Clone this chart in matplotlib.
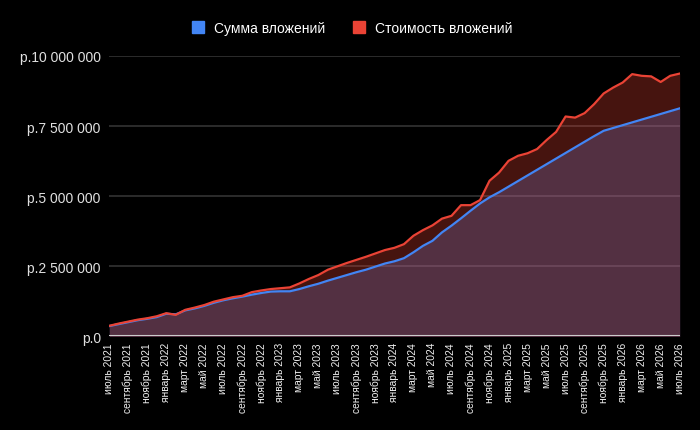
import matplotlib
matplotlib.use('Agg')
import matplotlib.pyplot as plt
from matplotlib.patches import Patch
from matplotlib.ticker import FuncFormatter, FixedLocator
import numpy as np

# Месяцы: июль 2021 .. июль 2026
month_names = ['январь', 'февраль', 'март', 'апрель', 'май', 'июнь',
               'июль', 'август', 'сентябрь', 'октябрь', 'ноябрь', 'декабрь']
months = [f'{month_names[(6 + i) % 12]} {2021 + (6 + i) // 12}' for i in range(61)]

# Сумма вложений, млн руб.
invested = [0.37, 0.44, 0.51, 0.58, 0.63, 0.69, 0.81, 0.79, 0.93, 1.00,
            1.09, 1.20, 1.29, 1.36, 1.42, 1.49, 1.55, 1.60, 1.61, 1.61,
            1.69, 1.79, 1.88, 1.99, 2.09, 2.19, 2.29, 2.38, 2.49, 2.60,
            2.68, 2.79, 3.00, 3.23, 3.41, 3.71, 3.95, 4.21, 4.48, 4.74,
            4.96, 5.14, 5.34, 5.54, 5.74, 5.94, 6.14, 6.34, 6.54, 6.74,
            6.94, 7.14, 7.33, 7.43, 7.53, 7.63, 7.73, 7.83, 7.93, 8.03,
            8.13]

# Стоимость вложений, млн руб.
value = [0.38, 0.46, 0.53, 0.60, 0.65, 0.72, 0.83, 0.77, 0.95, 1.03,
         1.12, 1.24, 1.32, 1.40, 1.45, 1.58, 1.64, 1.69, 1.72, 1.75,
         1.89, 2.05, 2.19, 2.38, 2.50, 2.62, 2.73, 2.84, 2.96, 3.08,
         3.16, 3.29, 3.59, 3.79, 3.96, 4.20, 4.30, 4.68, 4.68, 4.86,
         5.55, 5.84, 6.26, 6.44, 6.53, 6.68, 7.00, 7.29, 7.84, 7.80,
         7.96, 8.28, 8.66, 8.87, 9.05, 9.35, 9.29, 9.27, 9.07, 9.29,
         9.37]

y_ticks = [0, 2_500_000, 5_000_000, 7_500_000, 10_000_000]

blue = '#4285F4'
red = '#EA4335'
plt.rcParams['font.family'] = ['Liberation Sans', 'DejaVu Sans']

x = np.arange(len(months))
inv = np.array(invested) * 1e6
val = np.array(value) * 1e6

fig = plt.figure(figsize=(7, 4.31), dpi=100, facecolor='black')
ax = fig.add_axes([0.156, 0.217, 0.815, 0.651], facecolor='black')

# сетка под заливкой
for t in y_ticks[1:]:
    ax.axhline(t, color='#333333', lw=1.2, zorder=0)

ax.fill_between(x, 0, inv, color=blue, alpha=0.3, lw=0, zorder=1)
ax.fill_between(x, 0, val, color=red, alpha=0.3, lw=0, zorder=2)
ax.axhline(0, color='#cccccc', lw=1.5, zorder=3)
ax.plot(x, inv, color=blue, lw=1.6, zorder=4, solid_joinstyle='round')
ax.plot(x, val, color=red, lw=1.6, zorder=5, solid_joinstyle='round')

ax.set_xlim(0, len(months) - 1)
ax.set_ylim(0, 10_000_000)

ax.yaxis.set_major_locator(FixedLocator(y_ticks))
ax.yaxis.set_major_formatter(FuncFormatter(
    lambda v, p: 'р.' + f'{v:,.0f}'.replace(',', ' ')))
ax.set_xticks(x[::2])
ax.set_xticklabels(months[::2], rotation=90, fontsize=7.4, color='#f0f0f0')
ax.tick_params(axis='y', labelsize=10, colors='#e0e0e0', length=0, pad=6)
ax.tick_params(axis='x', length=0, pad=4)
for s in ax.spines.values():
    s.set_visible(False)

handles = [Patch(color=blue, label='Сумма вложений'),
           Patch(color=red, label='Стоимость вложений')]
fig.legend(handles=handles, loc='center', bbox_to_anchor=(0.503, 0.933), ncol=2,
           frameon=False, fontsize=10, labelcolor='white',
           handlelength=0.9, handleheight=0.9, handletextpad=0.7,
           columnspacing=2.0)

fig.savefig('out.png', dpi=100, facecolor='black')
